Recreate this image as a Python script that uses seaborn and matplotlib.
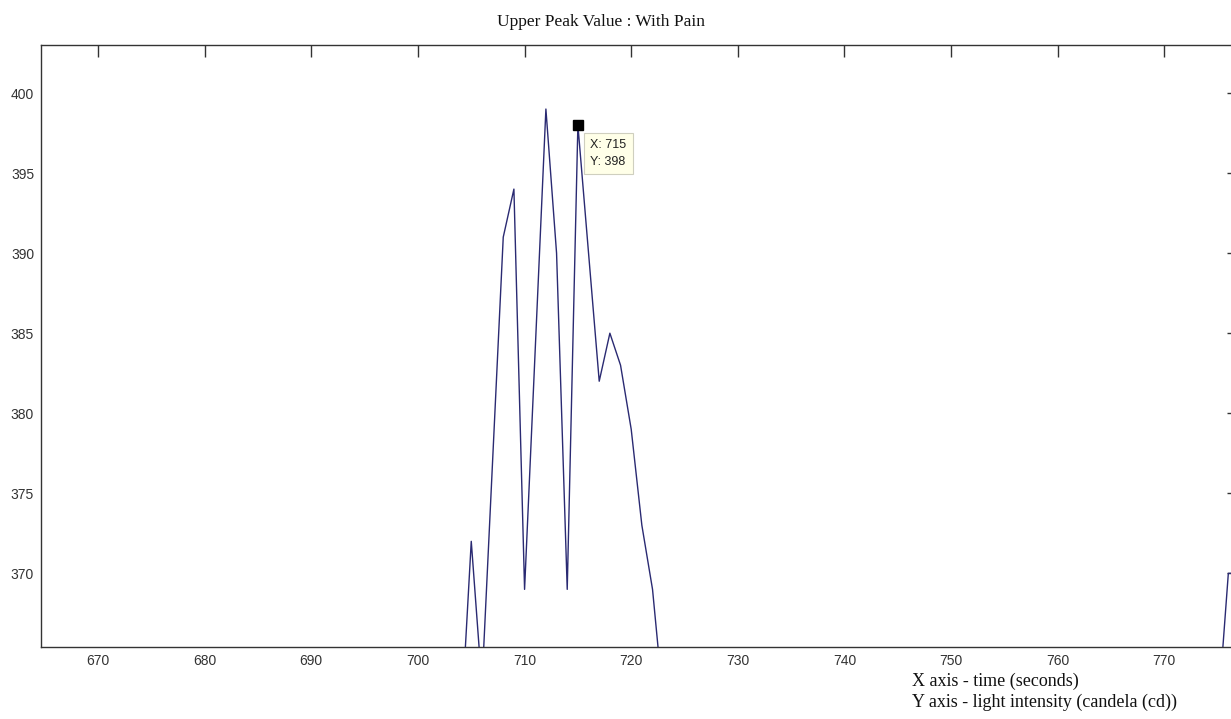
#############################
# Upper peak value plot (with pain)
#############################

import matplotlib
matplotlib.use('Agg')
import matplotlib.pyplot as plt
import seaborn as sns
import pandas as pd

# time in seconds and light intensity
# (points below the bottom of the axes are only rough guesses)
time_s = [703, 704, 705, 706, 707, 708, 709, 710, 711, 712, 713, 714, 715,
          716, 717, 718, 719, 720, 721, 722, 723, 724, 774, 775, 776, 777]
intensity = [360, 360, 372, 363, 377, 391, 394, 369, 384, 399, 390, 369, 398,
             390, 382, 385, 383, 379, 373, 369, 362, 360, 360, 361, 370, 370]

# data cursor point
cursor_x = 715
cursor_y = 398

x_ticks = [670, 680, 690, 700, 710, 720, 730, 740, 750, 760, 770]
y_ticks = [370, 375, 380, 385, 390, 395, 400]

df = pd.DataFrame({'t': time_s, 'cd': intensity})

sns.set_style('white')
plt.rcParams['font.family'] = ['Liberation Sans', 'DejaVu Sans']

fig = plt.figure(figsize=(12.31, 7.19), dpi=100)
W, H = 1231, 719
ax = fig.add_axes([41 / W, (H - 647) / H, 1198 / W, (647 - 45) / H])

# the signal
sns.lineplot(x='t', y='cd', data=df, color='#2a2a72', linewidth=1.0,
             ax=ax, sort=False, estimator=None)

# data cursor marker and tip
ax.plot([cursor_x], [cursor_y], 's', color='black', markersize=6.5)
ax.annotate(f'X: {cursor_x}\nY: {cursor_y}', xy=(cursor_x, cursor_y),
            xytext=(9, -10), textcoords='offset points', ha='left', va='top',
            fontsize=9, linespacing=1.55, color='#222222',
            bbox=dict(boxstyle='square,pad=0.5', fc='#ffffe8', ec='#cfcfbf', lw=0.8))

# axis limits and ticks
ax.set_xlim(664.65, 777.0)
ax.set_ylim(365.4, 403.0)
ax.set_xticks(x_ticks)
ax.set_yticks(y_ticks)
ax.tick_params(direction='in', length=8.6, width=1.0, color='#333333',
               top=True, right=True, labelsize=10, labelcolor='#333333', pad=5)
ax.set_xlabel('')
ax.set_ylabel('')
for s in ax.spines.values():
    s.set_color('#333333')
    s.set_linewidth(1.0)

# title and axis notes
fig.text(601 / W, 1 - 22 / H, 'Upper Peak Value : With Pain',
         family='Liberation Serif', fontsize=12.5, ha='center', va='center',
         color='#111111')
fig.text(912 / W, 1 - 681 / H, 'X axis - time (seconds)',
         family='Liberation Serif', fontsize=13, ha='left', va='center',
         color='#111111')
fig.text(912 / W, 1 - 702 / H, 'Y axis - light intensity (candela (cd))',
         family='Liberation Serif', fontsize=13, ha='left', va='center',
         color='#111111')

fig.savefig('out.png', dpi=100)
